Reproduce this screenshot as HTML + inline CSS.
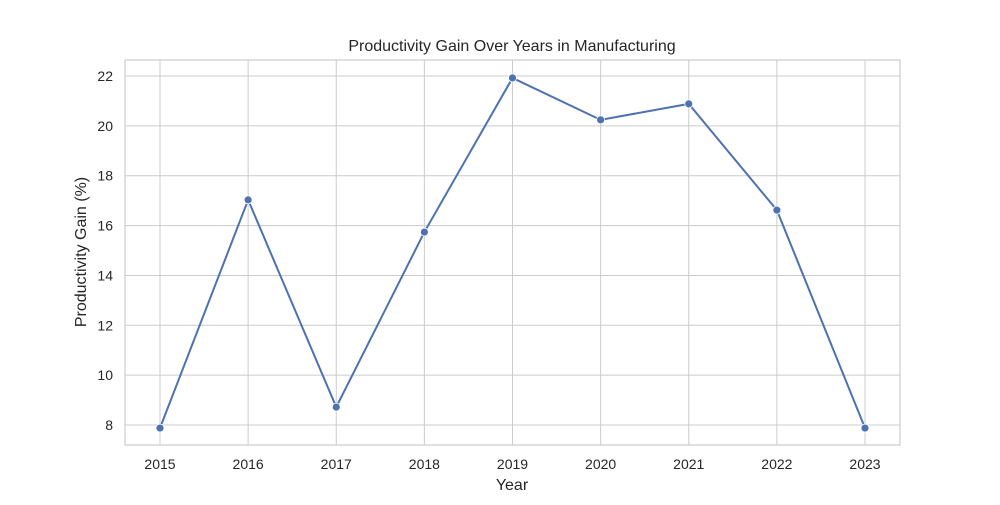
<!DOCTYPE html>
<html><head><meta charset="utf-8"><style>
body{margin:0;background:#fff;}
svg text{font-family:"Liberation Sans","DejaVu Sans",sans-serif;fill:#262626;}
</style></head><body>
<svg id="chart" width="1000" height="500" xmlns="http://www.w3.org/2000/svg"></svg>
<script>
const years = [2015,2016,2017,2018,2019,2020,2021,2022,2023];
const gains = [7.88,17.03,8.72,15.74,21.92,20.24,20.88,16.62,7.88];
const yTicks = [8,10,12,14,16,18,20,22];
const L=125,R=900,T=60,B=445;
const yMin=7.2,yMax=22.64;
function xs(v){return 160+(v-2015)*(865-160)/8;}
function ys(v){return B-(v-yMin)/(yMax-yMin)*(B-T);}
const svg=document.getElementById('chart');
const NS='http://www.w3.org/2000/svg';
function mk(tag,attrs,txt){const e=document.createElementNS(NS,tag);for(const k in attrs)e.setAttribute(k,attrs[k]);if(txt!==undefined)e.textContent=txt;svg.appendChild(e);return e;}
years.forEach(y=>{
  const g=mk('line',{x1:xs(y),x2:xs(y),y1:T,y2:B,stroke:'#cccccc','stroke-width':1});
  
  
  const t=mk('text',{x:xs(y),y:469,'text-anchor':'middle','font-size':14},String(y));
  
  
});
yTicks.forEach(v=>{
  const g=mk('line',{x1:L,x2:R,y1:ys(v),y2:ys(v),stroke:'#cccccc','stroke-width':1});
  
  
  const t=mk('text',{x:113,y:ys(v)+5,'text-anchor':'end','font-size':14},String(v));
  
  
});
const fr=mk('rect',{x:L,y:T,width:R-L,height:B-T,fill:'none',stroke:'#cccccc','stroke-width':1.2});


const pl=mk('polyline',{points:years.map((y,i)=>xs(y)+','+ys(gains[i])).join(' '),fill:'none',stroke:'#4c72b0','stroke-width':2});


years.forEach((y,i)=>{
  const c=mk('circle',{cx:xs(y),cy:ys(gains[i]),r:4,fill:'#4c72b0',stroke:'#fff','stroke-width':0.8});
  
  
});
const ti=mk('text',{x:512,y:51,'text-anchor':'middle','font-size':16},'Productivity Gain Over Years in Manufacturing');


const xt=mk('text',{x:512,y:490,'text-anchor':'middle','font-size':16},'Year');


const yt=mk('text',{x:86,y:252,'text-anchor':'middle','font-size':16,transform:'rotate(-90 86 252)'},'Productivity Gain (%)');


</script>
</body></html>
